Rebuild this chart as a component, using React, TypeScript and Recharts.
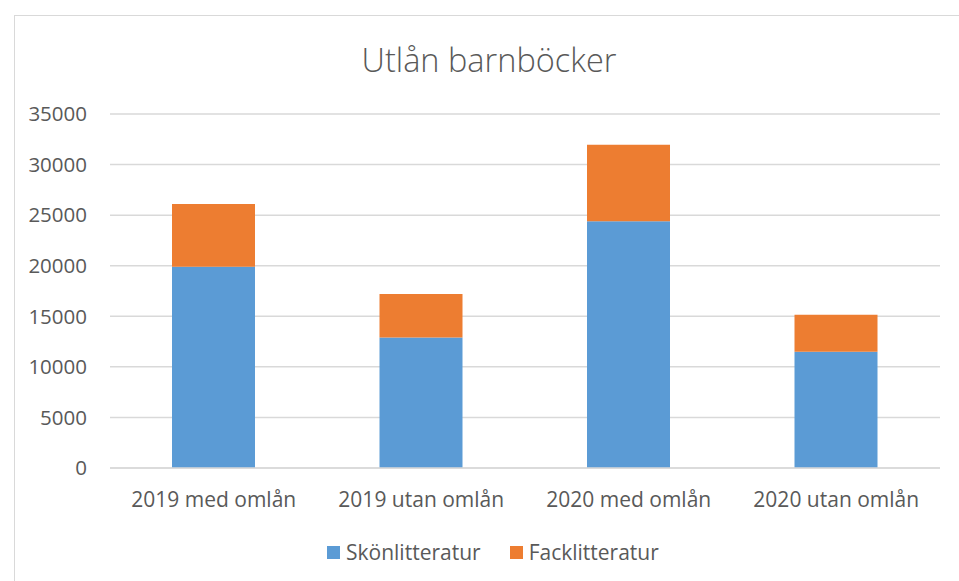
import { BarChart, Bar, XAxis, YAxis, CartesianGrid, Legend } from 'recharts';

const categories = ['2019 med omlån', '2019 utan omlån', '2020 med omlån', '2020 utan omlån'];
const skonlitteratur = [19900, 12900, 24400, 11500];
const facklitteratur = [6200, 4300, 7550, 3650];
const yTicks = [0, 5000, 10000, 15000, 20000, 25000, 30000, 35000];

const SERIES = [
  { key: 'Skönlitteratur', color: '#5b9bd5' },
  { key: 'Facklitteratur', color: '#ed7d31' },
];

const data = categories.map((name, i) => ({
  name,
  Skönlitteratur: skonlitteratur[i],
  Facklitteratur: facklitteratur[i],
}));

const FONT = '"Open Sans", sans-serif';
const TEXT = '#595959';

const renderLegend = () => (
  <div style={{ display: 'flex', alignItems: 'center', fontSize: 21, fontFamily: FONT, color: TEXT }}>
    {SERIES.map((s) => (
      <div key={s.key} style={{ display: 'flex', alignItems: 'center', marginRight: 29 }}>
        <span style={{ width: 13, height: 13, background: s.color, display: 'inline-block', marginRight: 6 }} />
        <span>{s.key}</span>
      </div>
    ))}
  </div>
);

export default function App() {
  return (
    <div style={{ position: 'relative', width: 959, height: 581, overflow: 'hidden', background: '#fff', fontFamily: FONT }}>
      <style>{'body{margin:0}'}</style>
      <div
        style={{
          position: 'absolute',
          left: 14,
          top: 15,
          width: 980,
          height: 600,
          border: '1px solid #d9d9d9',
        }}
      />
      <div
        style={{
          position: 'absolute',
          top: 37,
          left: 0,
          width: 978,
          textAlign: 'center',
          fontSize: 32.5,
          fontWeight: 300,
          color: TEXT,
          lineHeight: '46px',
        }}
      >
        Utlån barnböcker
      </div>
      <BarChart
        width={959}
        height={581}
        data={data}
        margin={{ top: 114, right: 19, bottom: 73, left: 0 }}
        style={{ position: 'absolute', left: 0, top: 0 }}
      >
        <CartesianGrid vertical={false} stroke="#d9d9d9" strokeWidth={1.5} />
        <XAxis
          dataKey="name"
          height={40}
          tickSize={0}
          tickMargin={24}
          tickLine={false}
          axisLine={{ stroke: '#d9d9d9', strokeWidth: 1.5 }}
          tick={{ fill: TEXT, fontSize: 21, fontFamily: FONT }}
        />
        <YAxis
          width={110}
          domain={[0, 35000]}
          ticks={yTicks}
          interval={0}
          tickSize={0}
          tickMargin={23}
          tickLine={false}
          axisLine={false}
          tick={{ fill: TEXT, fontSize: 20.5, fontFamily: FONT }}
        />
        <Legend
          layout="horizontal"
          verticalAlign="middle"
          align="center"
          content={renderLegend}
          wrapperStyle={{ top: 538, left: 327, width: 'auto' }}
        />
        {SERIES.map((s) => (
          <Bar key={s.key} dataKey={s.key} stackId="a" fill={s.color} barSize={83} isAnimationActive={false} />
        ))}
      </BarChart>
    </div>
  );
}
